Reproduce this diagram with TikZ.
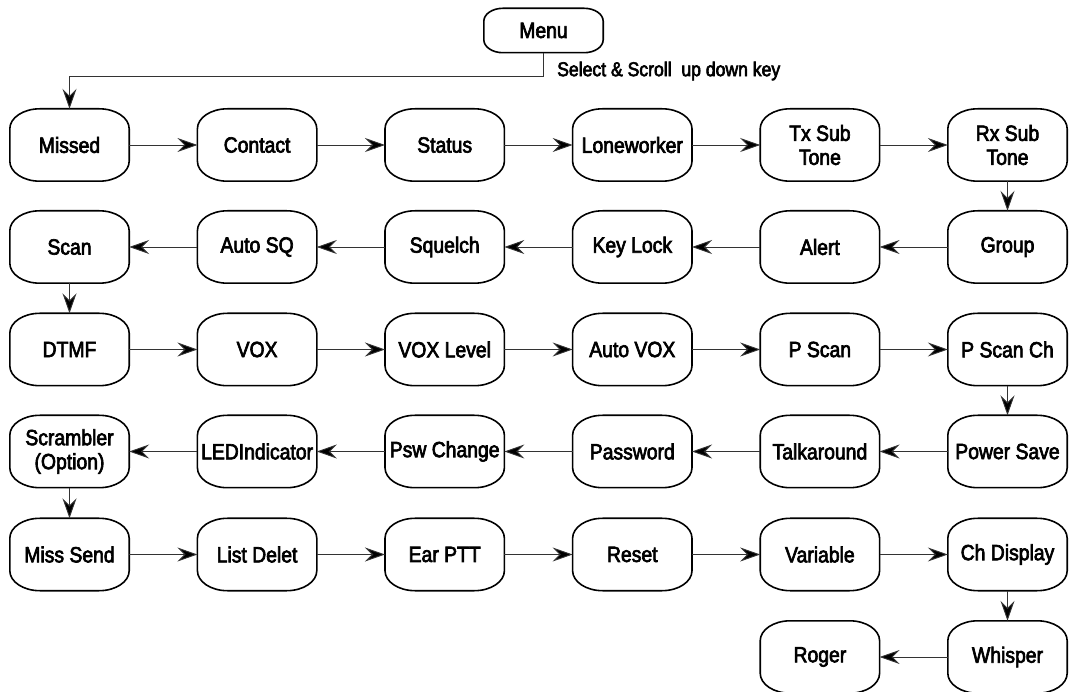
\documentclass[tikz,border=0pt]{standalone}
\usepackage{fontspec}
\setmainfont{Liberation Sans}[FakeStretch=0.88,FakeBold=3]
\usetikzlibrary{arrows.meta,calc}
\tikzset{
  box/.style={inner sep=0pt, minimum width=119pt, minimum height=72pt, align=center,
    font=\fontsize{22}{24}\selectfont},
  menubox/.style={box, minimum height=44pt},
  boxline/.style={draw=black, line width=1.6pt, fill=white},
  conn/.style={line width=0.9pt, draw=black!80,
    -{Stealth[length=20pt,width=14pt,inset=7pt,fill=black]}},
  lbl/.style={inner sep=0pt, anchor=west, font=\fontsize{20}{22}\selectfont}
}
% elliptical-corner outline around a named node: #1 node, #2 rx, #3 ry
\newcommand\eoutline[3]{%
  \pgfmathsetmacro\kx{#2*0.4477}\pgfmathsetmacro\ky{#3*0.4477}%
  \draw[boxline]
   ($(#1.north west)+(#2,0)$) -- ($(#1.north east)+(-#2,0)$)
   .. controls ($(#1.north east)+(-\kx,0)$) and ($(#1.north east)+(0,\ky)$) .. ($(#1.north east)+(0,#3)$)
   -- ($(#1.south east)+(0,-#3)$)
   .. controls ($(#1.south east)+(0,-\ky)$) and ($(#1.south east)+(-\kx,0)$) .. ($(#1.south east)+(-#2,0)$)
   -- ($(#1.south west)+(#2,0)$)
   .. controls ($(#1.south west)+(\kx,0)$) and ($(#1.south west)+(0,-\ky)$) .. ($(#1.south west)+(0,-#3)$)
   -- ($(#1.north west)+(0,#3)$)
   .. controls ($(#1.north west)+(0,\ky)$) and ($(#1.north west)+(\kx,0)$) .. cycle;}
\begin{document}
\begin{tikzpicture}[x=1pt,y=-1pt]
\useasboundingbox (0,0) rectangle (1069,692);
\def\cA{69.5}\def\cB{257.1}\def\cC{444.7}\def\cD{632.3}\def\cE{819.9}\def\cF{1007.5}
\def\rA{145}\def\rB{247}\def\rC{349.5}\def\rD{451.5}\def\rE{554.5}\def\rF{657}
% Menu
\node[menubox] (menu) at (543.5,30.5) {};
\node[lbl] (sel) at (557,71) {Select \& Scroll\ \ up down key};
% Row 1
\node[box] (missed) at (\cA,\rA) {};
\node[box] (contact) at (\cB,\rA) {};
\node[box] (status) at (\cC,\rA) {};
\node[box] (lone) at (\cD,\rA) {};
\node[box] (txsub) at (\cE,\rA) {};
\node[box] (rxsub) at (\cF,\rA) {};
% Row 2
\node[box] (scan) at (\cA,\rB) {};
\node[box] (autosq) at (\cB,\rB) {};
\node[box] (squelch) at (\cC,\rB) {};
\node[box] (keylock) at (\cD,\rB) {};
\node[box] (alert) at (\cE,\rB) {};
\node[box] (group) at (\cF,\rB) {};
% Row 3
\node[box] (dtmf) at (\cA,\rC) {};
\node[box] (vox) at (\cB,\rC) {};
\node[box] (voxlevel) at (\cC,\rC) {};
\node[box] (autovox) at (\cD,\rC) {};
\node[box] (pscan) at (\cE,\rC) {};
\node[box] (pscanch) at (\cF,\rC) {};
% Row 4
\node[box] (scrambler) at (\cA,\rD) {};
\node[box] (led) at (\cB,\rD) {};
\node[box] (psw) at (\cC,\rD) {};
\node[box] (password) at (\cD,\rD) {};
\node[box] (talk) at (\cE,\rD) {};
\node[box] (power) at (\cF,\rD) {};
% Row 5
\node[box] (misssend) at (\cA,\rE) {};
\node[box] (listdel) at (\cB,\rE) {};
\node[box] (earptt) at (\cC,\rE) {};
\node[box] (reset) at (\cD,\rE) {};
\node[box] (variable) at (\cE,\rE) {};
\node[box] (chdisp) at (\cF,\rE) {};
% Row 6
\node[box] (roger) at (\cE,\rF) {};
\node[box] (whisper) at (\cF,\rF) {};
% outlines
\eoutline{menu}{19}{13}
\foreach \n in {missed,contact,status,lone,txsub,rxsub,scan,autosq,squelch,keylock,alert,group,
  dtmf,vox,voxlevel,autovox,pscan,pscanch,scrambler,led,psw,password,talk,power,
  misssend,listdel,earptt,reset,variable,chdisp,roger,whisper}{\eoutline{\n}{30}{20}}
% texts
\node[box] at (menu) {Menu};
\node[box] at (missed) {Missed};
\node[box] at (contact) {Contact};
\node[box] at (status) {Status};
\node[box] at (lone) {Loneworker};
\node[box] at (txsub) {Tx Sub\\Tone};
\node[box] at (rxsub) {Rx Sub\\Tone};
\node[box] at (scan) {Scan};
\node[box] at (autosq) {Auto SQ};
\node[box] at (squelch) {Squelch};
\node[box] at (keylock) {Key Lock};
\node[box] at (alert) {Alert};
\node[box] at (group) {Group};
\node[box] at (dtmf) {DTMF};
\node[box] at (vox) {VOX};
\node[box] at (voxlevel) {VOX Level};
\node[box] at (autovox) {Auto VOX};
\node[box] at (pscan) {P Scan};
\node[box] at (pscanch) {P Scan Ch};
\node[box] at (scrambler) {Scrambler\\(Option)};
\node[box] at (led) {LEDIndicator};
\node[box] at (psw) {Psw Change};
\node[box] at (password) {Password};
\node[box] at (talk) {Talkaround};
\node[box] at (power) {Power Save};
\node[box] at (misssend) {Miss Send};
\node[box] at (listdel) {List Delet};
\node[box] at (earptt) {Ear PTT};
\node[box] at (reset) {Reset};
\node[box] at (variable) {Variable};
\node[box] at (chdisp) {Ch Display};
\node[box] at (roger) {Roger};
\node[box] at (whisper) {Whisper};
% Menu connector
\coordinate (mbend) at (menu.south |- 0,76);
\draw[conn] (menu.south) -- (mbend) -- (mbend -| missed.north) -- (missed.north);
% Row 1
\draw[conn] (missed) -- (contact);
\draw[conn] (contact) -- (status);
\draw[conn] (status) -- (lone);
\draw[conn] (lone) -- (txsub);
\draw[conn] (txsub) -- (rxsub);
\draw[conn] (rxsub) -- (group);
% Row 2
\draw[conn] (group) -- (alert);
\draw[conn] (alert) -- (keylock);
\draw[conn] (keylock) -- (squelch);
\draw[conn] (squelch) -- (autosq);
\draw[conn] (autosq) -- (scan);
\draw[conn] (scan) -- (dtmf);
% Row 3
\draw[conn] (dtmf) -- (vox);
\draw[conn] (vox) -- (voxlevel);
\draw[conn] (voxlevel) -- (autovox);
\draw[conn] (autovox) -- (pscan);
\draw[conn] (pscan) -- (pscanch);
\draw[conn] (pscanch) -- (power);
% Row 4
\draw[conn] (power) -- (talk);
\draw[conn] (talk) -- (password);
\draw[conn] (password) -- (psw);
\draw[conn] (psw) -- (led);
\draw[conn] (led) -- (scrambler);
\draw[conn] (scrambler) -- (misssend);
% Row 5
\draw[conn] (misssend) -- (listdel);
\draw[conn] (listdel) -- (earptt);
\draw[conn] (earptt) -- (reset);
\draw[conn] (reset) -- (variable);
\draw[conn] (variable) -- (chdisp);
\draw[conn] (chdisp) -- (whisper);
% Row 6
\draw[conn] (whisper) -- (roger);
\end{tikzpicture}
\end{document}
